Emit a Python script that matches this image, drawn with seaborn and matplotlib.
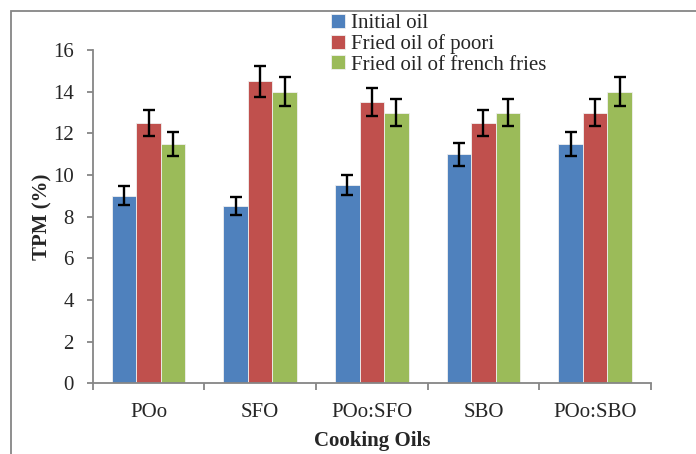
import pandas as pd
import matplotlib.pyplot as plt
import matplotlib.patches as mpatches
from matplotlib.ticker import MultipleLocator, FixedLocator
import seaborn as sns
import numpy as np

oils = ['POo', 'SFO', 'POo:SFO', 'SBO', 'POo:SBO']
series = ['Initial oil', 'Fried oil of poori', 'Fried oil of french fries']
initial = [9.0, 8.5, 9.5, 11.0, 11.5]
poori = [12.5, 14.5, 13.5, 12.5, 13.0]
fries = [11.5, 14.0, 13.0, 13.0, 14.0]
err_initial = [0.45, 0.43, 0.48, 0.55, 0.58]
err_poori = [0.63, 0.73, 0.68, 0.63, 0.65]
err_fries = [0.58, 0.70, 0.65, 0.65, 0.70]
colors = ['#4F81BD', '#C0504D', '#9BBB59']

df = pd.DataFrame({
    'oil': oils * 3,
    'series': [s for s in series for _ in oils],
    'tpm': initial + poori + fries,
})
errs = [err_initial, err_poori, err_fries]

sns.set_style('white')
plt.rcParams['font.family'] = ['Liberation Serif', 'DejaVu Serif']
spine_col = '#868686'

fig = plt.figure(figsize=(6.96, 4.54), dpi=100)
ax = fig.add_axes([0.1332, 0.1557, 0.802, 0.734])

sns.barplot(data=df, x='oil', y='tpm', hue='series', hue_order=series,
            order=oils, palette=colors, saturation=1, width=0.66, errorbar=None,
            edgecolor='#f0f0f0', linewidth=0.6, ax=ax)

for cont, e in zip(ax.containers, errs):
    xs = [p.get_x() + p.get_width() / 2 for p in cont.patches]
    hs = [p.get_height() for p in cont.patches]
    ax.errorbar(xs, hs, yerr=e, fmt='none', ecolor='black',
                elinewidth=1.7, capsize=4.4, capthick=1.7, zorder=5)

ax.set_ylim(0, 16)
ax.set_xlim(-0.5, len(oils) - 0.5)
ax.yaxis.set_major_locator(MultipleLocator(2))
ax.xaxis.set_minor_locator(FixedLocator(np.arange(len(oils) + 1) - 0.5))

for side in ['top', 'right']:
    ax.spines[side].set_visible(False)
for side in ['left', 'bottom']:
    ax.spines[side].set_color(spine_col)
    ax.spines[side].set_linewidth(1.3)

ax.tick_params(axis='y', which='major', length=4.5, width=1.3, color=spine_col,
               labelsize=15, pad=9, left=True)
ax.tick_params(axis='x', which='major', length=0, labelsize=15, pad=14)
ax.tick_params(axis='x', which='minor', length=5, width=1.3, color=spine_col,
               bottom=True)

ax.set_xlabel('Cooking Oils', fontsize=15, fontweight='bold', labelpad=7)
ax.set_ylabel('TPM (%)', fontsize=15, fontweight='bold', labelpad=0.5)

handles, labels = ax.get_legend_handles_labels()
ax.legend(handles, labels, loc='upper left', bbox_to_anchor=(331 / 696, 1 - 14 / 454),
          bbox_transform=fig.transFigure, frameon=False, fontsize=15,
          handlelength=0.65, handleheight=0.65, handletextpad=0.3,
          labelspacing=0.05, borderpad=0, borderaxespad=0)

# chart border (cut off at right and bottom)
fig.patches.append(mpatches.Rectangle((11 / 696, -0.1), 1.2, 1.1 - 11 / 454 + 0.0,
                                      transform=fig.transFigure, fill=False,
                                      edgecolor=spine_col, linewidth=1.3))

fig.savefig('out.png', dpi=100)
